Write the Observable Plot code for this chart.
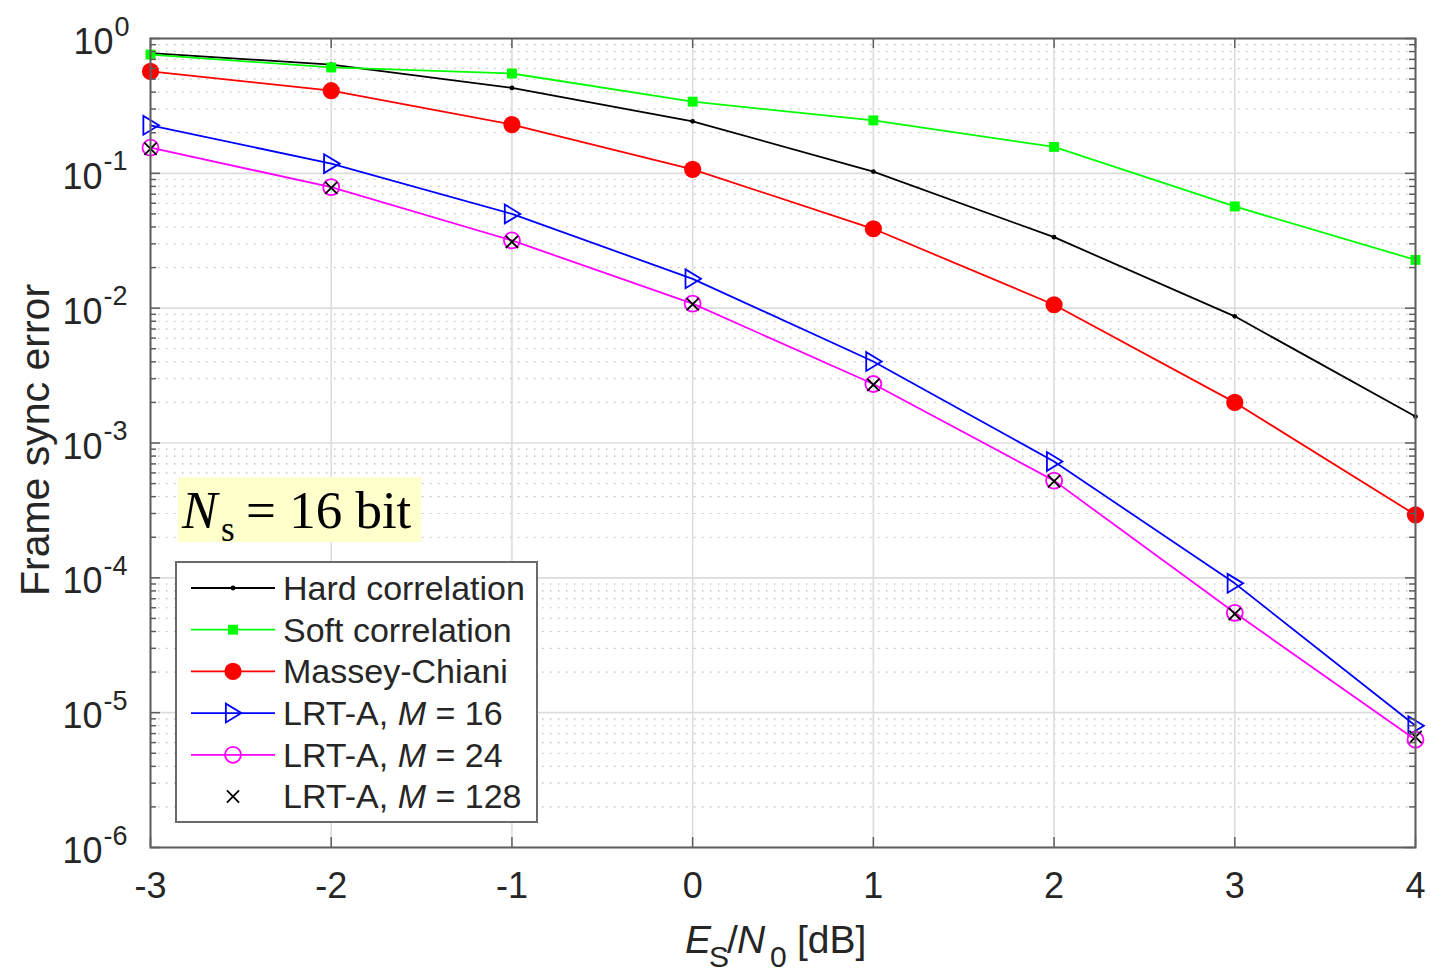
<!DOCTYPE html>
<html>
<head>
<meta charset="utf-8">
<script src="https://cdn.jsdelivr.net/npm/d3@7"></script>
<script src="https://cdn.jsdelivr.net/npm/@observablehq/plot@0.6"></script>
<style>
  html, body { margin: 0; padding: 0; background: #ffffff; }
  #chart { width: 1431px; height: 972px; }
</style>
</head>
<body>
<div id="chart"></div>
<script>
// ---------------- data ----------------
const esn0 = [-3, -2, -1, 0, 1, 2, 3, 4];
const hardCorrelation = [0.78, 0.64, 0.43, 0.243, 0.103, 0.0336, 0.0087, 0.00157];
const softCorrelation = [0.76, 0.61, 0.55, 0.34, 0.247, 0.157, 0.0568, 0.0228];
const masseyChiani   = [0.57, 0.41, 0.23, 0.107, 0.0388, 0.0106, 0.0020, 0.000293];
const lrtA16  = [0.227, 0.118, 0.050, 0.0165, 0.00402, 0.00073, 0.000091, 0.0000080];
const lrtA24  = [0.155, 0.079, 0.0318, 0.0108, 0.00274, 0.000526, 0.000055, 0.0000063];
const lrtA128 = [0.152, 0.078, 0.031, 0.0107, 0.0027, 0.00052, 0.000054, 0.0000066];

const seriesNames = ["Hard correlation", "Soft correlation", "Massey-Chiani", "LRT-A, M = 16", "LRT-A, M = 24", "LRT-A, M = 128"];
const xTicks = [-3, -2, -1, 0, 1, 2, 3, 4];
const yExponents = [0, -1, -2, -3, -4, -5, -6];
const xLabelParts = ["E", "S", "/", "N", "0", "[dB]"];
const yLabel = "Frame sync error";
const annotationParts = ["N", "s", "= 16 bit"];

// ---------------- styling ----------------
const triangleRight = {
  draw(context, size) {
    const r = Math.sqrt(size / Math.PI);
    context.moveTo(r * 1.0, 0);
    context.lineTo(-r * 0.85, -r * 1.12);
    context.lineTo(-r * 0.85, r * 1.12);
    context.closePath();
  }
};

const seriesStyles = [
  {values: hardCorrelation, color: "#000000", symbol: d3.symbolCircle, fill: "#000000", stroke: "none", r: 2.4, line: true},
  {values: softCorrelation, color: "#00ff00", symbol: d3.symbolSquare, fill: "#00ff00", stroke: "none", r: 5.6, line: true},
  {values: masseyChiani, color: "#ff0000", symbol: d3.symbolCircle, fill: "#ff0000", stroke: "none", r: 8.6, line: true},
  {values: lrtA16, color: "#0000ff", symbol: triangleRight, fill: "none", stroke: "#0000ff", r: 8.4, line: true},
  {values: lrtA24, color: "#ff00ff", symbol: d3.symbolCircle, fill: "none", stroke: "#ff00ff", r: 8, line: true},
  {values: lrtA128, color: "#000000", symbol: d3.symbolTimes, fill: "none", stroke: "#000000", r: 5.6, line: false}
];

const series = seriesNames.map((name, i) => ({name, ...seriesStyles[i]}));

const rows = series.flatMap(s => esn0.map((x, i) => ({series: s.name, x, v: s.values[i]})));

const decades = yExponents.map(e => Math.pow(10, e));
const minors = [];
for (let e = -6; e < 0; e++) for (let k = 2; k <= 9; k++) minors.push(k * Math.pow(10, e));

const W = 1431, H = 972;
const mL = 150, mR = 16, mT = 38, mB = 125;
const pw = W - mL - mR, ph = H - mT - mB;
const axisColor = "#5e5e5e";
const textColor = "#262626";
const lineW = 1.8;
const sans = "'Liberation Sans', Arial, Helvetica, sans-serif";
const serif = "'Liberation Serif', 'Times New Roman', Times, serif";

// legend + annotation drawn as a custom render mark
function legendMark() {
  const g = d3.create("svg:g").attr("text-anchor", "start");
  // annotation
  g.append("rect").attr("x", 178).attr("y", 477).attr("width", 243).attr("height", 65).attr("fill", "#ffffcc");
  const at = g.append("text").attr("font-family", serif).attr("font-size", 53).attr("fill", "#000").attr("text-anchor", "start");
  at.append("tspan").attr("x", 182).attr("y", 528).attr("font-style", "italic").text(annotationParts[0]);
  at.append("tspan").attr("x", 221).attr("y", 541).attr("font-size", 35).text(annotationParts[1]);
  at.append("tspan").attr("x", 246).attr("y", 528).text(annotationParts[2]);

  // legend box
  g.append("rect").attr("x", 176).attr("y", 562).attr("width", 361).attr("height", 260)
    .attr("fill", "#ffffff").attr("stroke", "#6a6a6a").attr("stroke-width", 2);
  series.forEach((s, i) => {
    const cy = 588 + i * 41.7;
    if (s.line) {
      g.append("line").attr("x1", 191).attr("x2", 275).attr("y1", cy).attr("y2", cy)
        .attr("stroke", s.color).attr("stroke-width", lineW);
    }
    g.append("path").attr("d", d3.symbol(s.symbol, Math.PI * s.r * s.r)())
      .attr("transform", `translate(233,${cy})`)
      .attr("fill", s.fill).attr("stroke", s.stroke === "none" ? null : s.stroke)
      .attr("stroke-width", lineW);
    const t = g.append("text").attr("x", 283).attr("y", cy + 11.8).attr("text-anchor", "start")
      .attr("font-family", sans).attr("font-size", 34).attr("fill", textColor);
    const m = s.name.match(/^(.*, )M( = .*)$/);
    if (m) {
      t.append("tspan").text(m[1]);
      t.append("tspan").attr("font-style", "italic").text("M");
      t.append("tspan").text(m[2]);
    } else {
      t.text(s.name);
    }
  });
  return g.node();
}

const marks = [
  // grid
  Plot.ruleY(minors, {y: d => d, stroke: "#b4b4b4", strokeWidth: 1.2, strokeDasharray: "1.4,6.6"}),
  Plot.ruleY(decades, {y: d => d, stroke: "#dcdcdc", strokeWidth: 1.6}),
  Plot.ruleX(xTicks, {x: d => d, stroke: "#dcdcdc", strokeWidth: 1.6}),
];

series.forEach(s => {
  const data = rows.filter(r => r.series === s.name);
  if (s.line) marks.push(Plot.line(data, {x: "x", y: "v", stroke: s.color, strokeWidth: lineW}));
  marks.push(Plot.dot(data, {x: "x", y: "v", symbol: () => s.symbol, r: s.r, fill: s.fill, stroke: s.stroke, strokeWidth: lineW}));
});

const negExp = yExponents.filter(e => e < 0);
const zeroExp = yExponents.filter(e => e === 0);

marks.push(
  // ticks (inward)
  Plot.tickX(xTicks, {x: d => d, insetTop: ph - 10, stroke: axisColor, strokeWidth: 1.5}),
  Plot.tickX(xTicks, {x: d => d, insetBottom: ph - 10, stroke: axisColor, strokeWidth: 1.5}),
  Plot.tickY(decades, {y: d => d, insetRight: pw - 10, stroke: axisColor, strokeWidth: 1.5}),
  Plot.tickY(decades, {y: d => d, insetLeft: pw - 10, stroke: axisColor, strokeWidth: 1.5}),
  Plot.tickY(minors, {y: d => d, insetRight: pw - 6, stroke: axisColor, strokeWidth: 1.5}),
  Plot.tickY(minors, {y: d => d, insetLeft: pw - 6, stroke: axisColor, strokeWidth: 1.5}),
  Plot.frame({stroke: axisColor, strokeWidth: 2}),
  // x tick labels
  Plot.text(xTicks, {x: d => d, frameAnchor: "bottom", text: d => String(d), textAnchor: "middle", lineAnchor: "bottom", dy: 50,
    fontSize: 36, fill: textColor}),
  // y tick labels: "10" + exponent
  Plot.text(negExp, {y: e => Math.pow(10, e), frameAnchor: "left", text: () => "10",
    textAnchor: "end", lineAnchor: "bottom", dx: -48, dy: 15.5, fontSize: 36, fill: textColor}),
  Plot.text(negExp, {y: e => Math.pow(10, e), frameAnchor: "left", text: e => String(e),
    textAnchor: "start", lineAnchor: "bottom", dx: -47, dy: -3, fontSize: 27, fill: textColor}),
  Plot.text(zeroExp, {y: e => Math.pow(10, e), frameAnchor: "left", text: () => "10",
    textAnchor: "end", lineAnchor: "bottom", dx: -37, dy: 15.5, fontSize: 36, fill: textColor}),
  Plot.text(zeroExp, {y: e => Math.pow(10, e), frameAnchor: "left", text: e => String(e),
    textAnchor: "start", lineAnchor: "bottom", dx: -36, dy: -3, fontSize: 27, fill: textColor}),
  // y label
  Plot.text([yLabel], {frameAnchor: "left", text: d => d, rotate: -90, dx: -115, dy: -3, textAnchor: "middle", lineAnchor: "middle",
    fontSize: 41, fill: textColor}),
  // x label pieces
  Plot.text([xLabelParts[0]], {frameAnchor: "bottom", text: d => d, textAnchor: "start", lineAnchor: "bottom", dx: -98, dy: 105, fontSize: 39, fontStyle: "italic", fill: textColor}),
  Plot.text([xLabelParts[1]], {frameAnchor: "bottom", text: d => d, textAnchor: "start", lineAnchor: "bottom", dx: -74, dy: 119, fontSize: 30, fill: textColor}),
  Plot.text([xLabelParts[2]], {frameAnchor: "bottom", text: d => d, textAnchor: "start", lineAnchor: "bottom", dx: -56, dy: 105, fontSize: 39, fill: textColor}),
  Plot.text([xLabelParts[3]], {frameAnchor: "bottom", text: d => d, textAnchor: "start", lineAnchor: "bottom", dx: -46, dy: 105, fontSize: 39, fontStyle: "italic", fill: textColor}),
  Plot.text([xLabelParts[4]], {frameAnchor: "bottom", text: d => d, textAnchor: "start", lineAnchor: "bottom", dx: -13, dy: 119, fontSize: 30, fill: textColor}),
  Plot.text([xLabelParts[5]], {frameAnchor: "bottom", text: d => d, textAnchor: "start", lineAnchor: "bottom", dx: 14, dy: 105, fontSize: 39, fill: textColor}),
  legendMark
);

const chart = Plot.plot({
  width: W,
  height: H,
  marginLeft: mL,
  marginRight: mR,
  marginTop: mT,
  marginBottom: mB,
  x: {domain: [-3, 4], axis: null},
  y: {type: "log", domain: [1e-6, 1], axis: null},
  style: {fontFamily: sans, background: "#ffffff", color: textColor, overflow: "visible"},
  marks
});

document.getElementById("chart").appendChild(chart);
</script>
</body>
</html>
